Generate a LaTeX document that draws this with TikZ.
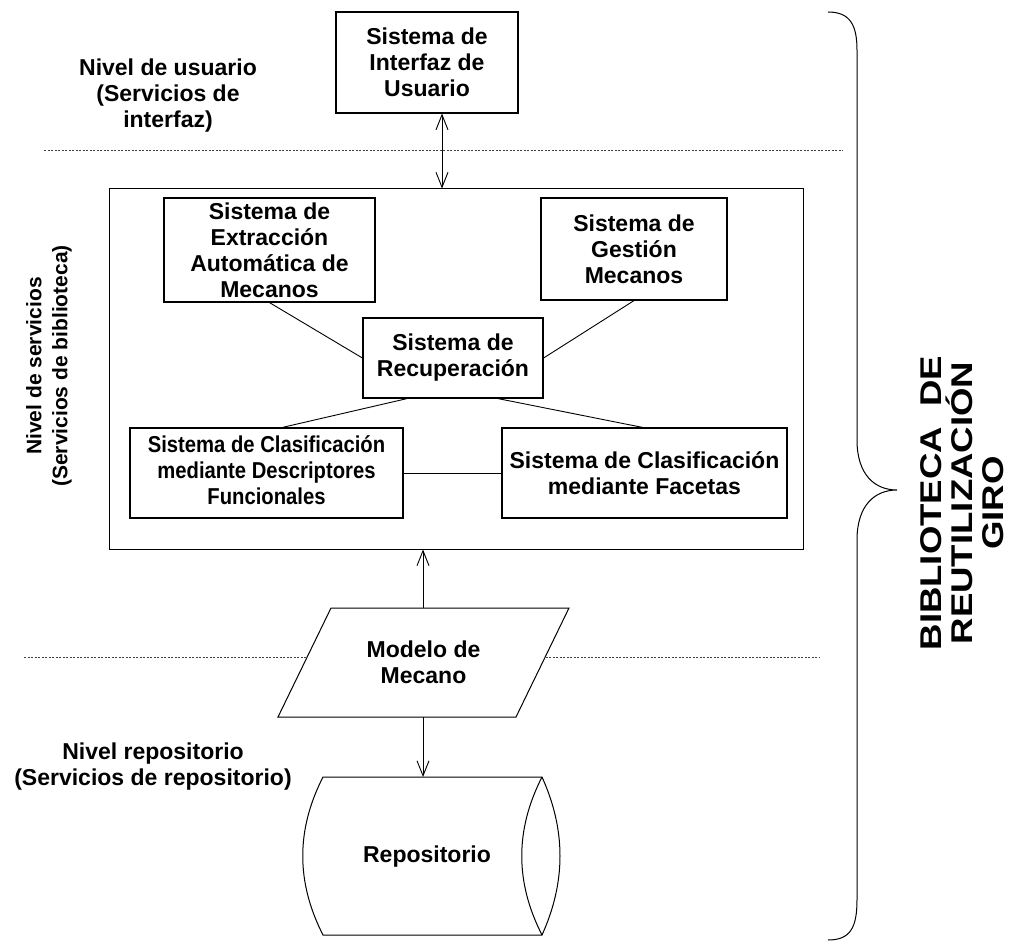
\documentclass[tikz,border=0pt]{standalone}
\usepackage{fontspec}
\setmainfont{Liberation Sans}
\newfontfamily\bibfont[FakeStretch=1.22]{Liberation Sans}
\usetikzlibrary{arrows.meta}
\begin{document}
\begin{tikzpicture}[x=1pt,y=-1pt,
  box/.style={draw, line width=1.2pt, align=center, inner sep=0pt,
    font=\bfseries\fontsize{23}{26}\selectfont},
  lbl/.style={align=center, inner sep=0pt, font=\bfseries\fontsize{23}{26}\selectfont},
  conn/.style={line width=0.9pt},
  barb/.tip={Straight Barb[length=15pt,width=12pt]},
  arr/.style={line width=0.9pt, -barb},
  dots/.style={line width=0.9pt, dash pattern=on 2pt off 1.5pt, black!75},
  shapeline/.style={line width=1pt}]
\useasboundingbox (0,0) rectangle (1013,952);

% dotted level separators
\draw[dots] (44,150) -- (843,150);
\draw[dots] (24,657) -- (820,657);

% user level
\node[box, minimum width=182pt, minimum height=101pt] (ui) at (427,62.5) {Sistema de\\Interfaz de\\Usuario};
\node[lbl] (lu) at (168,96) {Nivel de usuario\\(Servicios de\\interfaz)};

% services frame
\node[draw, shapeline, fill=white, minimum width=694pt, minimum height=360pt] (frame) at (456,369) {};
\node[lbl, rotate=90, font=\bfseries\fontsize{21}{26}\selectfont] (ls) at (49,366) {Nivel de servicios\\(Servicios de biblioteca)};

\node[box, minimum width=211pt, minimum height=104pt] (ext) at (269.5,250) {Sistema de\\Extracción\\Automática de\\Mecanos};
\node[box, minimum width=186pt, minimum height=102pt] (ges) at (634,249) {Sistema de\\Gestión\\Mecanos};
\node[box, minimum width=180pt, minimum height=80pt] (rec) at (453,358) {Sistema de\\Recuperación};
\node[box, minimum width=273pt, minimum height=90pt] (desc) at (266.5,473) {\scalebox{0.88}[1]{\begin{tabular}{@{}c@{}}Sistema de Clasificación\\mediante Descriptores\\Funcionales\end{tabular}}};
\node[box, minimum width=285pt, minimum height=90pt] (fac) at (644.5,473) {Sistema de Clasificación\\mediante Facetas};

\draw[conn] (ext.south) -- (rec.west);
\draw[conn] (ges.south) -- (rec.east);
\draw[conn] ([xshift=-46pt]rec.south) -- ([xshift=16pt]desc.north);
\draw[conn] ([xshift=45pt]rec.south) -- ([xshift=-2pt]fac.north);
\draw[conn] (desc.east) -- (fac.west);

% arrows user <-> services
\coordinate (uia) at ([xshift=15pt]ui.south);
\draw[arr, barb-barb] (uia) -- (uia |- frame.north);

% model
\draw[shapeline, fill=white] (331,608) -- (569,608) -- (516,717) -- (278,717) -- cycle;
\node[lbl] (model) at (423.5,662) {Modelo de\\Mecano};
\coordinate (mtop) at (423,608);
\coordinate (mbot) at (423,717);
\draw[arr] (mtop) -- (mtop |- frame.south);

% repository
\draw[shapeline] (323,777) -- (542,777) .. controls (566,830) and (566,882) .. (542,935)
  -- (323,935) .. controls (296,882) and (296,830) .. (323,777) -- cycle;
\draw[shapeline] (542,777) .. controls (515,830) and (515,882) .. (542,935);
\node[lbl] (repo) at (427,857) {Repositorio};
\coordinate (rtop) at (423,777);
\draw[arr] (mbot) -- (rtop);
\node[lbl] (lr) at (153,767) {Nivel repositorio\\(Servicios de repositorio)};

% brace
\draw[line width=1pt] (828,12) .. controls (850,12) and (857,25) .. (857,50)
  -- (857,440) .. controls (857,475) and (875,490) .. (897,490)
  .. controls (875,490) and (857,505) .. (857,540)
  -- (857,900) .. controls (857,928) and (850,940) .. (828,940);
\node[rotate=90, align=center, inner sep=0pt, font=\bibfont\bfseries\fontsize{30}{31}\selectfont] (bib) at (962,503) {BIBLIOTECA\ \ DE\\REUTILIZACIÓN\\GIRO};
\end{tikzpicture}
\end{document}
